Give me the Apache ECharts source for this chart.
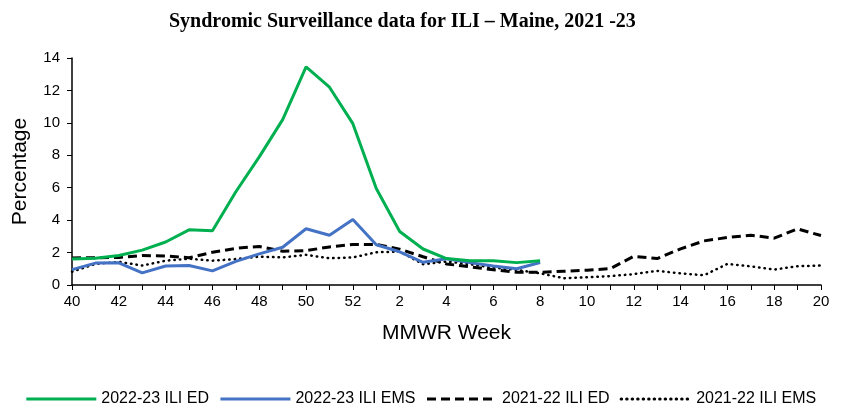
<!DOCTYPE html>
<html>
<head>
<meta charset="utf-8">
<script src="https://cdn.jsdelivr.net/npm/echarts@6/dist/echarts.min.js"></script>
<style>
  html, body { margin: 0; padding: 0; background: #fff; }
  #chart { width: 841px; height: 404px; }
</style>
</head>
<body>
<div id="chart"></div>
<script>
// MMWR weeks, season runs 40..52 then 1..20
var weeks = ['40','41','42','43','44','45','46','47','48','49','50','51','52',
             '1','2','3','4','5','6','7','8','9','10','11','12','13','14','15','16','17','18','19','20'];

// 2022-23 season only goes up to week 8
var ed2223  = [1.6, 1.65, 1.82, 2.15, 2.65, 3.4, 3.35, 5.75, 7.9, 10.2, 13.45, 12.2, 9.95,
               5.95, 3.3, 2.22, 1.63, 1.5, 1.5, 1.38, 1.5];
var ems2223 = [0.95, 1.35, 1.37, 0.75, 1.17, 1.2, 0.87, 1.46, 1.92, 2.33, 3.47, 3.07, 4.04,
               2.48, 2.05, 1.4, 1.62, 1.38, 1.17, 1.0, 1.39];
var ed2122  = [1.67, 1.68, 1.7, 1.82, 1.79, 1.68, 2.02, 2.26, 2.38, 2.08, 2.12, 2.35, 2.5,
               2.5, 2.21, 1.74, 1.3, 1.12, 0.94, 0.78, 0.78, 0.85, 0.91, 1.01, 1.77, 1.63,
               2.23, 2.72, 2.93, 3.07, 2.89, 3.46, 3.05];
var ems2122 = [0.82, 1.3, 1.43, 1.2, 1.5, 1.62, 1.5, 1.6, 1.75, 1.7, 1.86, 1.65, 1.7,
               2.02, 2.06, 1.28, 1.45, 1.28, 1.07, 0.93, 0.72, 0.42, 0.48, 0.55, 0.67, 0.87,
               0.72, 0.6, 1.3, 1.15, 0.95, 1.16, 1.2];

var myChart = echarts.init(document.getElementById('chart'));

var axisFont = 'Liberation Sans, Arial, sans-serif';

var option = {
    animation: false,
    title: {
        text: 'Syndromic Surveillance data for ILI \u2013 Maine, 2021 -23',
        left: 164,
        top: 7,
        textStyle: {
            fontFamily: 'Liberation Serif, Times New Roman, serif',
            fontWeight: 'bold',
            fontSize: 20,
            color: '#000'
        }
    },
    legend: {
        top: 386,
        left: 'center',
        itemWidth: 70,
        itemHeight: 12,
        itemGap: 10,
        itemStyle: { opacity: 0 },
        lineStyle: { width: 3 },
        textStyle: { fontFamily: axisFont, fontSize: 16, color: '#000' },
        data: ['2022-23 ILI ED', '2022-23 ILI EMS', '2021-22 ILI ED', '2021-22 ILI EMS']
    },
    grid: {
        left: 72,
        right: 20,
        top: 58,
        bottom: 119
    },
    xAxis: {
        type: 'category',
        data: weeks,
        boundaryGap: false,
        name: 'MMWR Week',
        nameLocation: 'middle',
        nameGap: 38,
        nameTextStyle: { fontFamily: axisFont, fontSize: 21, color: '#000' },
        axisLine: { lineStyle: { color: '#000', width: 1.5 } },
        axisTick: { show: true, interval: 0, length: 5, lineStyle: { color: '#000' } },
        axisLabel: { interval: 1, fontFamily: axisFont, fontSize: 15, color: '#000', margin: 9 }
    },
    yAxis: {
        type: 'value',
        min: 0,
        max: 14,
        interval: 2,
        name: 'Percentage',
        nameLocation: 'middle',
        nameGap: 41,
        nameTextStyle: { fontFamily: axisFont, fontSize: 21, color: '#000' },
        axisLine: { show: true, lineStyle: { color: '#000', width: 1.5 } },
        axisTick: { show: true, length: 5, lineStyle: { color: '#000' } },
        splitLine: { show: false },
        axisLabel: { fontFamily: axisFont, fontSize: 15, color: '#000', margin: 12 }
    },
    series: [
        {
            name: '2022-23 ILI ED',
            type: 'line',
            data: ed2223,
            symbol: 'none',
            color: '#00B050',
            lineStyle: { width: 3, color: '#00B050' },
            z: 4
        },
        {
            name: '2022-23 ILI EMS',
            type: 'line',
            data: ems2223,
            symbol: 'none',
            color: '#4472C4',
            lineStyle: { width: 3, color: '#4472C4' },
            z: 3
        },
        {
            name: '2021-22 ILI ED',
            type: 'line',
            data: ed2122,
            symbol: 'none',
            color: '#000',
            lineStyle: { width: 3, color: '#000', type: [9, 5] },
            z: 2
        },
        {
            name: '2021-22 ILI EMS',
            type: 'line',
            data: ems2122,
            symbol: 'none',
            color: '#000',
            lineStyle: { width: 2.5, color: '#000', type: [0.5, 5], cap: 'round' },
            z: 1
        }
    ]
};

myChart.setOption(option);
</script>
</body>
</html>
